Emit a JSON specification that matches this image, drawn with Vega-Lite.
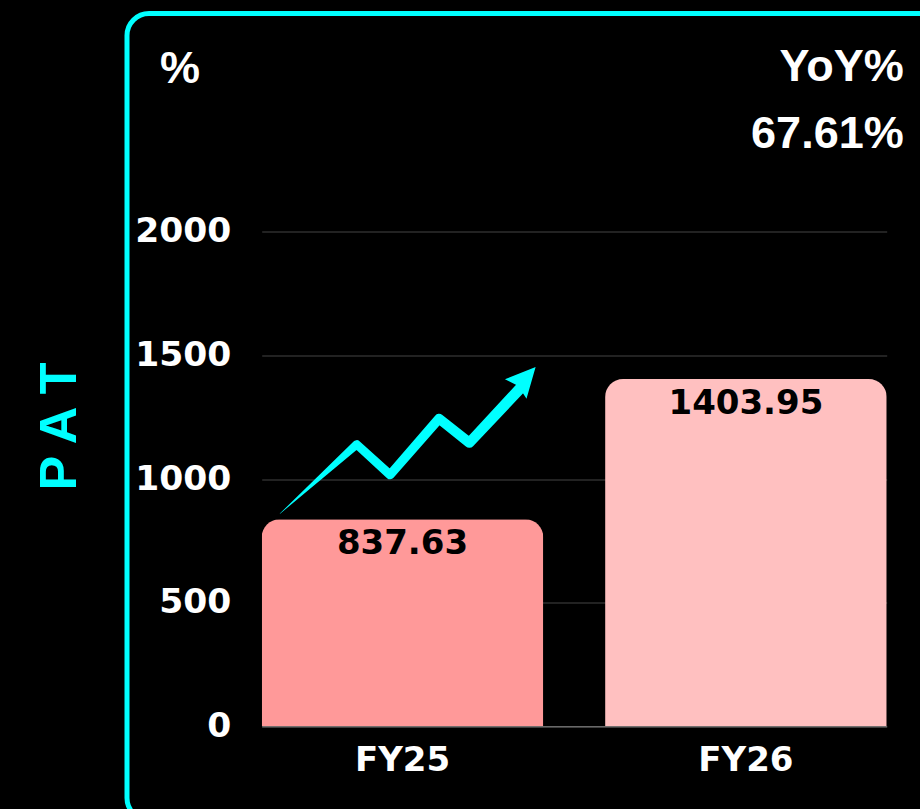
{
  "$schema": "https://vega.github.io/schema/vega-lite/v6.json",
  "autosize": "none",
  "padding": {"left": 127, "top": 13.5, "right": 0, "bottom": 0},
  "width": 820,
  "height": 806.5,
  "background": "#000000",
  "config": {
    "view": {"stroke": "#00FFFF", "strokeWidth": 5, "cornerRadius": 22, "fill": "#000000"}
  },
  "resolve": {"scale": {"xOffset": "independent", "size": "independent"}},
  "layer": [
    {
      "data": {"values": [
        {"year": "FY25", "pat": 837.63},
        {"year": "FY26", "pat": 1403.95}
      ]},
      "mark": {"type": "bar", "cornerRadiusTopLeft": 18, "cornerRadiusTopRight": 18},
      "encoding": {
        "x": {
          "field": "year", "type": "nominal",
          "scale": {"range": [134.7, 759.7], "paddingInner": 0.18, "paddingOuter": 0},
          "axis": {
            "orient": "bottom", "offset": -93.7, "title": null, "grid": false,
            "domain": true, "domainColor": "#888888", "domainWidth": 1,
            "ticks": false, "tickSize": 0, "labelPadding": 43.7, "labelAngle": 0,
            "labelBaseline": "alphabetic", "labelColor": "#ffffff",
            "labelFont": "DejaVu Sans", "labelFontWeight": "bold", "labelFontSize": 34
          }
        },
        "y": {
          "field": "pat", "type": "quantitative",
          "scale": {"domain": [0, 2000], "range": [712.8, 218.2], "nice": false, "zero": true},
          "axis": {
            "values": [0, 500, 1000, 1500, 2000], "format": "d",
            "grid": true, "gridColor": "#444444", "gridWidth": 1,
            "domain": false, "ticks": false, "tickSize": 0,
            "labelPadding": -103.7, "labelAlign": "right", "labelBaseline": "middle",
            "labelColor": "#ffffff", "labelFont": "DejaVu Sans", "labelFontWeight": "bold", "labelFontSize": 34.5,
            "title": "P A T", "titleColor": "#00FFFF", "titleFont": "Liberation Sans",
            "titleFontWeight": "bold", "titleFontSize": 52, "titleAngle": -90,
            "titleX": -52, "titleY": 412.5, "titleAlign": "center", "titleBaseline": "alphabetic"
          }
        },
        "color": {
          "field": "year", "type": "nominal",
          "scale": {"domain": ["FY25", "FY26"], "range": ["#FF9999", "#FFC0C0"]},
          "legend": null
        }
      }
    },
    {
      "data": {"values": [
        {"year": "FY25", "pat": 837.63},
        {"year": "FY26", "pat": 1403.95}
      ]},
      "mark": {"type": "text", "baseline": "alphabetic", "dy": 35, "font": "DejaVu Sans", "fontWeight": "bold", "fontSize": 34, "color": "#000000"},
      "encoding": {
        "x": {"field": "year", "type": "nominal", "bandPosition": 0.5},
        "y": {"field": "pat", "type": "quantitative"},
        "text": {"field": "pat", "type": "quantitative", "format": ".2f"}
      }
    },
    {
      "data": {"values": [
        {"year": "FY25", "xo": 0.065, "pat": 860},
        {"year": "FY25", "xo": 0.338, "pat": 1140},
        {"year": "FY25", "xo": 0.457, "pat": 1017},
        {"year": "FY25", "xo": 0.631, "pat": 1244},
        {"year": "FY25", "xo": 0.739, "pat": 1147},
        {"year": "FY25", "xo": 0.922, "pat": 1369}
      ]},
      "mark": {"type": "trail", "color": "#00FFFF", "opacity": 1},
      "encoding": {
        "x": {"field": "year", "type": "nominal", "bandPosition": 0},
        "xOffset": {"field": "xo", "type": "quantitative", "scale": {"domain": [0, 1], "range": [0, 281]}},
        "y": {"field": "pat", "type": "quantitative"},
        "order": {"field": "xo"},
        "size": {"field": "xo", "type": "quantitative", "scale": {"domain": [0.065, 0.338, 0.922], "range": [0.3, 8.5, 11]}, "legend": null}
      }
    },
    {
      "data": {"values": [
        {"year": "FY25", "xo": 0.923, "pat": 1388}
      ]},
      "mark": {"type": "point", "shape": "M0,-1.5L1,0.55L0,0.28L-1,0.55Z", "size": 841, "angle": 42, "filled": true, "opacity": 1, "color": "#00FFFF", "strokeWidth": 0},
      "encoding": {
        "x": {"field": "year", "type": "nominal", "bandPosition": 0},
        "xOffset": {"field": "xo", "type": "quantitative", "scale": {"domain": [0, 1], "range": [0, 281]}},
        "y": {"field": "pat", "type": "quantitative"}
      }
    },
    {
      "data": {"values": [{}]},
      "mark": {"type": "text", "text": "%", "align": "left", "baseline": "alphabetic", "dx": -101.7, "font": "Liberation Sans", "fontWeight": "bold", "fontSize": 45, "color": "#ffffff", "clip": false},
      "encoding": {
        "x": {"datum": "FY25", "type": "nominal", "bandPosition": 0},
        "y": {"datum": 2601, "type": "quantitative"}
      }
    },
    {
      "data": {"values": [{}]},
      "mark": {"type": "text", "text": "YoY%", "align": "right", "baseline": "alphabetic", "dx": 17, "font": "Liberation Sans", "fontWeight": "bold", "fontSize": 45, "color": "#ffffff", "clip": false},
      "encoding": {
        "x": {"datum": "FY26", "type": "nominal", "bandPosition": 1},
        "y": {"datum": 2609, "type": "quantitative"}
      }
    },
    {
      "data": {"values": [{}]},
      "mark": {"type": "text", "text": "67.61%", "align": "right", "baseline": "alphabetic", "dx": 17, "font": "Liberation Sans", "fontWeight": "bold", "fontSize": 45, "color": "#ffffff", "clip": false},
      "encoding": {
        "x": {"datum": "FY26", "type": "nominal", "bandPosition": 1},
        "y": {"datum": 2338, "type": "quantitative"}
      }
    }
  ]
}
